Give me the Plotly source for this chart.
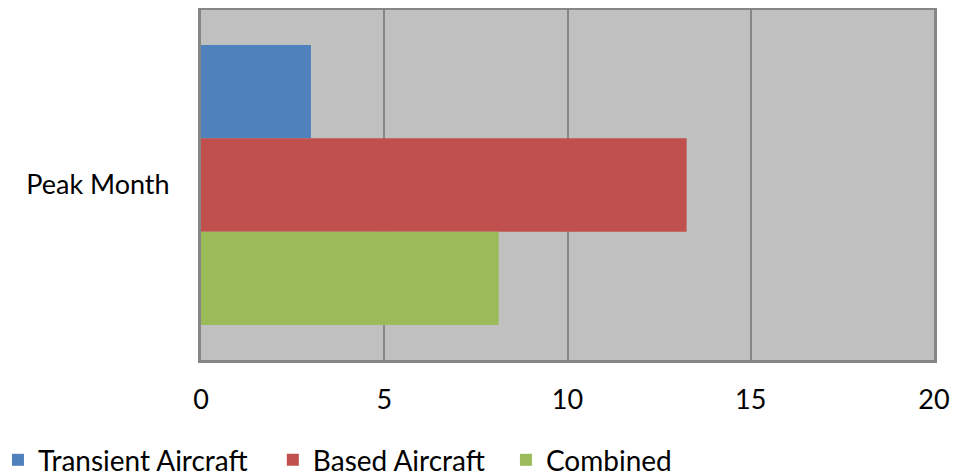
import plotly.graph_objects as go

categories = ["Peak Month"]
series_names = ["Transient Aircraft", "Based Aircraft", "Combined"]
transient = [3.0]
based = [13.25]
combined = [8.12]
x_ticks = [0, 5, 10, 15, 20]

colors = ["#4F81BD", "#C0504D", "#9BBB59"]
values = [transient, based, combined]
legend_ids = ["legend", "legend2", "legend3"]
legend_x = [-0.277, 0.098, 0.416]

fig = go.Figure()
for name, vals, col, lid in zip(series_names, values, colors, legend_ids):
    fig.add_trace(go.Bar(y=categories, x=vals, name=name, orientation="h",
                         legend=lid,
                         marker=dict(color=col, line=dict(width=0))))

font_family = "Lato, 'Liberation Sans', sans-serif"
legend_common = dict(orientation="h", xref="paper", yref="paper",
                     xanchor="left", y=-0.286, yanchor="middle",
                     font=dict(size=28), itemsizing="constant")

fig.update_layout(
    width=954, height=468,
    margin=dict(l=193, r=28, t=2, b=116, autoexpand=False),
    plot_bgcolor="#C0C0C0",
    paper_bgcolor="white",
    barmode="group",
    bargap=0.2, bargroupgap=0,
    font=dict(family=font_family, size=27, color="black"),
    showlegend=True,
    legend=dict(x=legend_x[0], **legend_common),
    legend2=dict(x=legend_x[1], **legend_common),
    legend3=dict(x=legend_x[2], **legend_common),
    xaxis=dict(range=[0, 20], tickvals=x_ticks, showgrid=True,
               gridcolor="#868686", gridwidth=2, zeroline=False,
               showline=True, linecolor="#868686", linewidth=3, mirror=True,
               ticks="", ticklabelstandoff=14),
    yaxis=dict(autorange="reversed", showgrid=False, zeroline=False,
               showline=True, linecolor="#868686", linewidth=3, mirror=True,
               ticks="", ticklabelstandoff=23),
)
fig.write_html("out.html")
